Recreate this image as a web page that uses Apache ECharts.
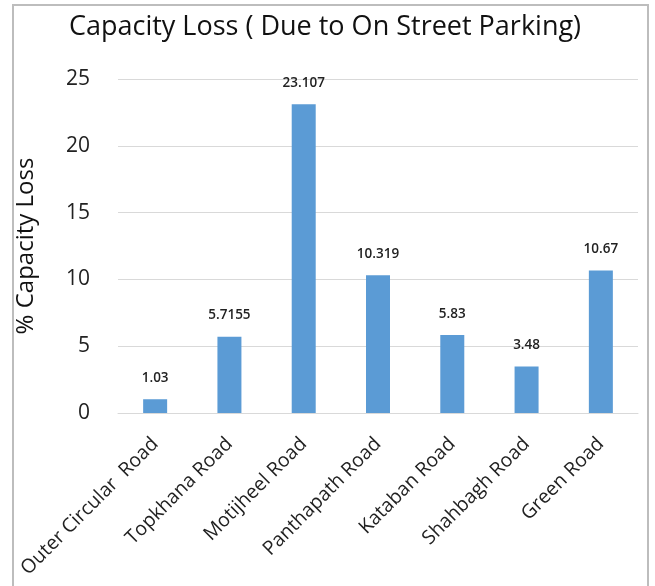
<!DOCTYPE html>
<html>
<head>
<meta charset="utf-8">
<script src="https://cdn.jsdelivr.net/npm/echarts@6/dist/echarts.min.js"></script>
<style>
  html, body { margin: 0; padding: 0; background: #fff; }
  #frame {
    position: absolute; left: 12px; top: 4px; width: 637px; height: 600px;
    border: 2px solid #bdbdbd; border-bottom: none; box-sizing: border-box;
  }
  #main { position: absolute; left: 0; top: 0; width: 655px; height: 586px; }
</style>
</head>
<body>
<div id="frame"></div>
<div id="main"></div>
<script>
  // categories and values
  var roads = ['Outer Circular  Road', 'Topkhana Road', 'Motijheel Road', 'Panthapath Road',
               'Kataban Road', 'Shahbagh Road', 'Green Road'];
  var capacityLoss = [1.03, 5.7155, 23.107, 10.319, 5.83, 3.48, 10.67];
  var valueLabels = ['1.03', '5.7155', '23.107', '10.319', '5.83', '3.48', '10.67'];

  var font = '"Open Sans", "Noto Sans", sans-serif';
  var chart = echarts.init(document.getElementById('main'));
  chart.setOption({
    animation: false,
    title: {
      text: 'Capacity Loss ( Due to On Street Parking)',
      left: 320, top: 9, textAlign: 'center',
      textStyle: { fontFamily: font, fontSize: 27, fontWeight: 'normal', color: '#111' }
    },
    grid: { left: 118, right: 17, top: 79, bottom: 173 },
    xAxis: {
      type: 'category',
      data: roads,
      axisLine: { lineStyle: { color: '#d9d9d9' } },
      axisTick: { show: false },
      axisLabel: {
        rotate: 45, interval: 0, margin: 28,
        fontFamily: font, fontSize: 19.5, color: '#222'
      }
    },
    yAxis: {
      type: 'value',
      min: 0, max: 25, interval: 5,
      name: '% Capacity Loss',
      nameLocation: 'middle',
      nameGap: 80,
      nameTextStyle: { fontFamily: font, fontSize: 24, color: '#111' },
      axisLine: { show: false },
      axisTick: { show: false },
      axisLabel: { fontFamily: font, fontSize: 21, color: '#222', margin: 28 },
      splitLine: { lineStyle: { color: '#d9d9d9' } }
    },
    series: [{
      type: 'bar',
      data: capacityLoss,
      barWidth: 24,
      itemStyle: { color: '#5b9bd5' },
      label: {
        show: true, position: 'top', distance: 14,
        fontFamily: font, fontSize: 13.5, fontWeight: 600, color: '#222',
        formatter: function (p) { return valueLabels[p.dataIndex]; }
      }
    }]
  });
</script>
</body>
</html>
